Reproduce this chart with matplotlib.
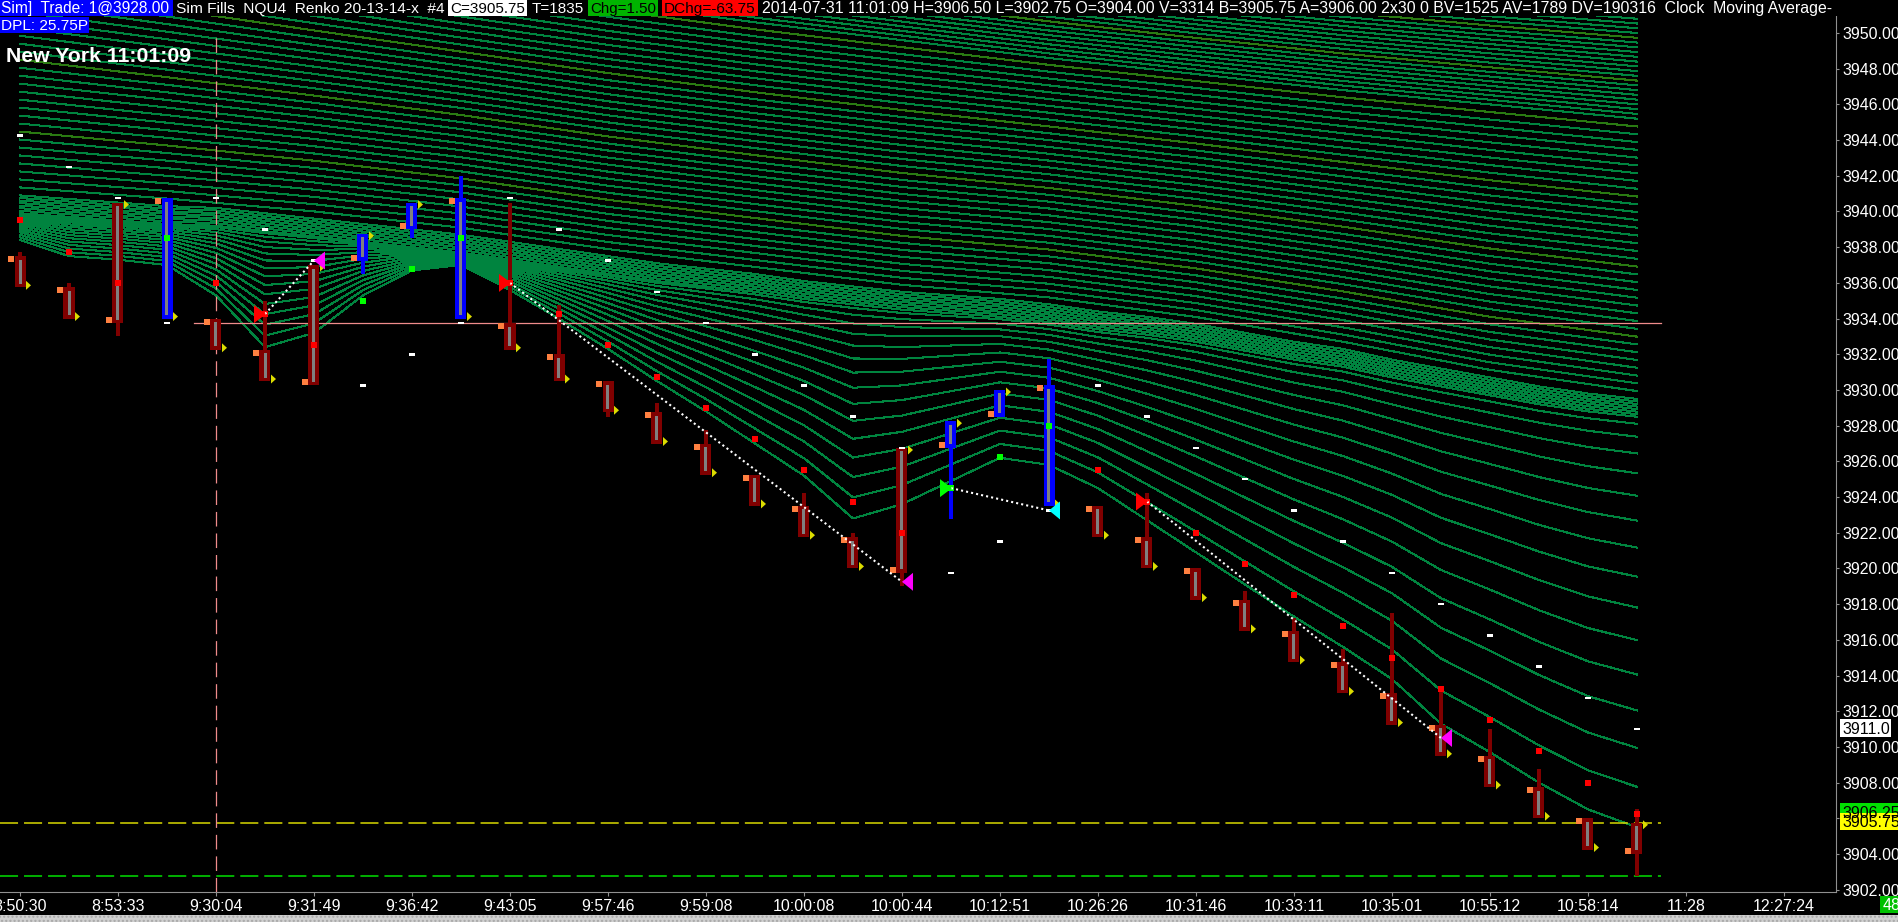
import numpy as np
import matplotlib
matplotlib.use("Agg")
import matplotlib.pyplot as plt
from matplotlib.patches import Rectangle, Polygon

W, H = 1899, 922
plt.rcParams['font.family'] = ['Liberation Sans', 'DejaVu Sans']
plt.rcParams['lines.scale_dashes'] = False

# ---- renko bars (one slot per bar) ----
time_labels = ["8:50:30", "8:53:33", "9:30:04", "9:31:49", "9:36:42", "9:43:05", "9:57:46",
               "9:59:08", "10:00:08", "10:00:44", "10:12:51", "10:26:26", "10:31:46",
               "10:33:11", "10:35:01", "10:55:12", "10:58:14", "11:28", "12:27:24"]
label_slots = list(range(0, 37, 2))

opens = [3937.5, 3935.75, 3933.75, 3940.75, 3934.0, 3932.25, 3930.25, 3937.25, 3939.0, 3940.75,
         3933.75, 3932.0, 3930.5, 3928.75, 3927.0, 3925.25, 3923.5, 3921.75, 3919.75, 3926.75,
         3928.5, 3930.25, 3923.5, 3921.75, 3920.0, 3918.25, 3916.5, 3914.75, 3913.0, 3911.25,
         3909.5, 3907.75, 3906.0, 3904.0]
closes = [3935.75, 3934.0, 3940.5, 3934.0, 3932.25, 3930.5, 3937.0, 3938.75, 3940.5, 3934.0,
          3932.25, 3930.5, 3928.75, 3927.0, 3925.25, 3923.5, 3921.75, 3920.0, 3926.75, 3928.25,
          3930.0, 3923.5, 3921.75, 3920.0, 3918.25, 3916.5, 3914.75, 3913.0, 3911.25, 3909.5,
          3907.75, 3906.0, 3904.25, 3905.75]
highs = [3937.75, 3936.0, 3940.5, 3940.75, 3934.0, 3935.0, 3937.0, 3938.75, 3940.5, 3942.0,
         3940.5, 3934.75, 3930.5, 3929.25, 3927.75, 3925.25, 3924.25, 3922.0, 3926.75, 3928.25,
         3930.0, 3931.75, 3923.5, 3924.25, 3920.0, 3918.75, 3917.25, 3915.5, 3917.5, 3913.25,
         3911.0, 3908.75, 3906.0, 3906.5]
lows = [3935.75, 3934.0, 3933.0, 3934.0, 3932.25, 3930.5, 3930.25, 3936.5, 3938.5, 3934.0,
        3932.25, 3930.5, 3928.5, 3927.0, 3925.25, 3923.5, 3921.75, 3920.0, 3919.0, 3922.75,
        3928.5, 3923.5, 3921.75, 3920.0, 3918.25, 3916.5, 3914.75, 3913.0, 3911.25, 3909.5,
        3907.75, 3906.0, 3904.25, 3902.75]
bar_colors = "rrrbrrrbbbrrrrrrrrrbbbrrrrrrrrrrrr"

# stop dots (red/green squares) and trailing white dashes
stop_dots = [3939.5, 3937.75, 3936.0, 3938.5, 3936.0, 3934.25, 3932.5, 3935.0, 3936.75, 3938.5,
             3936.0, 3934.25, 3932.5, 3930.75, 3929.0, 3927.25, 3925.5, 3923.75, 3922.0, 3924.5,
             3926.25, 3928.0, 3925.5, 3923.75, 3922.0, 3920.25, 3918.5, 3916.75, 3915.0, 3913.25,
             3911.5, 3909.75, 3908.0, 3906.25]
trail = [3944.25, 3942.5, 3940.75, 3933.75, 3940.75, 3939.0, 3937.25, 3930.25, 3932.0, 3933.75,
         3940.75, 3939.0, 3937.25, 3935.5, 3933.75, 3932.0, 3930.25, 3928.5, 3926.75, 3919.75,
         3921.5, 3923.25, 3930.25, 3928.5, 3926.75, 3925.0, 3923.25, 3921.5, 3919.75, 3918.0,
         3916.25, 3914.5, 3912.75, 3911.0]

# trade signals
entry_slots = [5, 10, 19, 23]
entry_px = [3934.25, 3936.0, 3924.5, 3923.75]
entry_cols = ['#ff0000', '#ff0000', '#00ff00', '#ff0000']
exit_slots = [6, 18, 21, 29]
exit_px = [3937.25, 3919.25, 3923.25, 3910.5]
exit_cols = ['#ff00ff', '#ff00ff', '#00ffff', '#ff00ff']

# moving average ribbon guides
ma_fast = [3938.4, 3937.5, 3937.3, 3937.0, 3935.3, 3932.4, 3933.2, 3935.3, 3936.7, 3937.0,
           3935.6, 3934.0, 3932.3, 3930.5, 3928.8, 3927.0, 3925.2, 3922.8, 3923.6, 3924.9,
           3926.2, 3925.8, 3924.5, 3922.7, 3920.9, 3919.1, 3917.3, 3915.6, 3913.8, 3911.3,
           3909.7, 3908.0, 3906.5, 3905.5]
ma_band = [3940.4, 3940.2, 3940.0, 3939.8, 3939.7, 3939.4, 3939.1, 3938.8, 3938.5, 3938.2,
           3937.8, 3937.4, 3937.0, 3936.6, 3936.3, 3936.0, 3935.6, 3935.3, 3935.0, 3934.8,
           3934.6, 3934.3, 3933.9, 3933.6, 3933.2, 3932.7, 3932.2, 3931.8, 3931.2, 3930.7,
           3930.2, 3929.7, 3929.3, 3929.0]
slow_slots = [0, 3, 6, 9, 12, 15, 18, 21, 24, 27, 30, 33]
ma_slow_top = [3966.0, 3964.4, 3962.8, 3961.3, 3959.9, 3958.6, 3957.4, 3956.3, 3955.3, 3954.5, 3953.8, 3953.2]
ma_slow_mid = [3957.0, 3955.6, 3954.2, 3952.9, 3951.7, 3950.6, 3949.6, 3948.6, 3947.7, 3946.8, 3946.0, 3945.2]

pink_level, last_level, low_level = 3933.75, 3905.75, 3902.75
session_open_slot = 4

# ---- figure ----
fig = plt.figure(figsize=(W / 100, H / 100), dpi=100, facecolor='black')
ax = fig.add_axes([0, 30 / H, 1836 / W, 892 / H], facecolor='black')
ymin, ymax = 3901.87, 3951.85
ax.set_xlim(-20 / 49, 1816 / 49)
ax.set_ylim(ymin, ymax)
px = 1 / 49.0
py = (ymax - ymin) / 892.0

xb = np.arange(len(opens))
o, c = np.array(opens), np.array(closes)
hi, lo = np.array(highs), np.array(lows)

# ribbon
green, olive = '#00843f', '#2a7a12'
xs = np.array(slow_slots)
top, mid = np.array(ma_slow_top), np.array(ma_slow_mid)
band, fast = np.array(ma_band), np.array(ma_fast)
band_s = band[xs] + 0.5
n = 0
for t in np.linspace(0, 1, 30, endpoint=False):
    ax.plot(xs, top + (mid - top) * t, color=olive if n % 9 == 4 else green, lw=0.75, antialiased=False, zorder=1)
    n += 1
for t in np.linspace(0, 1, 36, endpoint=False):
    ax.plot(xs, mid + (band_s - mid) * t, color=olive if n % 9 == 4 else green, lw=0.75, antialiased=False, zorder=1)
    n += 1
for t in np.linspace(0, 1, 8):
    ax.plot(xb, band + 0.5 - t, color=green, lw=0.75, antialiased=False, zorder=1)
for k in range(1, 16):
    t = (k / 15) ** 1.5
    ax.plot(xb, (band - 0.5) + (fast - band + 0.5) * t, color=green, lw=0.75, antialiased=False, zorder=1)

# horizontal / vertical reference lines
ax.plot([3.55, 33.5], [pink_level, pink_level], color='#f08c8c', lw=0.9, zorder=2)
ax.plot([-0.41, 33.5], [last_level, last_level], color='#d8d800', lw=1.1, dashes=(13, 4.3), zorder=2)
ax.plot([-0.41, 33.5], [low_level, low_level], color='#00e000', lw=1.1, dashes=(13, 4.3), zorder=2)
ax.plot([session_open_slot] * 2, [ymin, 3950.1], color='#f08c8c', lw=0.9, dashes=(10.5, 5), zorder=2)

# candles
cols = np.where(np.array(list(bar_colors)) == 'b', '#0000ff', '#800000')
ax.vlines(xb, lo, hi, colors=cols, lw=4 * 0.72, zorder=3)
ax.bar(xb, np.abs(c - o), bottom=np.minimum(o, c), width=11 * px, color=cols, zorder=3.1)
ax.bar(xb, np.abs(c - o) - 7 * py, bottom=np.minimum(o, c) + 3.5 * py, width=3 * px,
       color='#808080', zorder=3.2)
oy = np.where(o > c, o - 6 * py, o)
ax.bar(xb - 9 * px, 6 * py, bottom=oy, width=6 * px, color='#ff8040', zorder=3.3)
for i in xb:
    yc = c[i] + 2 * py if c[i] < o[i] else c[i] - 2 * py
    ax.add_patch(Polygon([(i + 6 * px, yc - 4.5 * py), (i + 6 * px, yc + 4.5 * py), (i + 11 * px, yc)],
                         closed=True, facecolor='#dcdc00', edgecolor='none', zorder=3.3))

dot_cols = np.where(np.array(list(bar_colors)) == 'b', '#00ff00', '#ff0000')
ax.scatter(xb, stop_dots, marker='s', s=(6 * 0.72) ** 2, c=dot_cols, linewidths=0, zorder=3.4)
ax.bar(xb, 2.5 * py, bottom=np.array(trail) - 1.25 * py, width=6 * px, color='white', zorder=3.4)

# trades
for x0, y0, x1, y1 in zip(entry_slots, entry_px, exit_slots, exit_px):
    ax.plot([x0, x1], [y0, y1], color='white', lw=1.5, dashes=(1.5, 2.2), zorder=3.5)
for x, y, col in zip(entry_slots, entry_px, entry_cols):
    ax.add_patch(Polygon([(x - 11 * px, y - 9 * py), (x - 11 * px, y + 9 * py), (x + 1 * px, y)],
                         closed=True, facecolor=col, edgecolor='none', zorder=3.6))
for x, y, col in zip(exit_slots, exit_px, exit_cols):
    ax.add_patch(Polygon([(x + 11 * px, y - 9 * py), (x + 11 * px, y + 9 * py), (x, y)],
                         closed=True, facecolor=col, edgecolor='none', zorder=3.6))

# axes styling
yt = np.arange(3902, 3951, 2)
ax.yaxis.tick_right()
ax.set_yticks(yt)
ax.set_yticklabels([f"{v:.2f}" for v in yt])
ax.set_xticks(label_slots)
ax.set_xticklabels(time_labels)
ax.tick_params(axis='y', colors='#909090', labelcolor='white', length=2.2, width=0.8, pad=2.2, labelsize=11.5)
ax.tick_params(axis='x', colors='#909090', labelcolor='white', length=2.9, width=0.8, pad=2.2, labelsize=11.5)
for s in ['left', 'top']:
    ax.spines[s].set_visible(False)
for s in ['right', 'bottom']:
    ax.spines[s].set_color('#909090')
    ax.spines[s].set_linewidth(0.8)


# ---- overlays in pixel coordinates ----
def box(x0, y0, x1, y1, color, **kw):
    fig.add_artist(Rectangle((x0 / W, 1 - y1 / H), (x1 - x0) / W, (y1 - y0) / H,
                             transform=fig.transFigure, facecolor=color, zorder=5, **kw))


def label(x, y, s, color='white', size=10.8, **kw):
    return fig.text(x / W, 1 - y / H, s, color=color, fontsize=size, va='baseline', ha='left', zorder=6, **kw)


renderer = fig.canvas.get_renderer()


def fit(t, width):
    # scale a text so it spans the width measured on the reference
    w = t.get_window_extent(renderer=renderer).width
    t.set_fontsize(t.get_fontsize() * width / w)


box(0, 0, W, 16, 'black', edgecolor='none')
box(0, 0, 173, 16, '#0000ff', edgecolor='none')
box(448, 0, 527, 16, 'white', edgecolor='none')
box(588, 0, 658, 16, '#00b400', edgecolor='none')
box(662, 0, 758, 16, '#ff0000', edgecolor='none')
box(0, 17, 89, 33, '#0000ff', edgecolor='none')

header = [(1, 13, "Sim]  Trade: 1@3928.00", 'white', 169),
          (176, 13, "Sim Fills  NQU4  Renko 20-13-14-x  #4", 'white', 268),
          (450, 13, "C=3905.75", 'black', 75),
          (532, 13, "T=1835", 'white', 52),
          (590, 13, "Chg=1.50", 'black', 66),
          (664, 13, "DChg=-63.75", 'black', 92),
          (762, 13, "2014-07-31 11:01:09 H=3906.50 L=3902.75 O=3904.00 V=3314 B=3905.75 "
                    "A=3906.00 2x30 0 BV=1525 AV=1789 DV=190316  Clock  Moving Average-", 'white', 1074),
          (1, 30, "DPL: 25.75P", 'white', 87)]
for x, y, s, col, w in header:
    fit(label(x, y, s, color=col), w)

fit(label(6, 62, "New York 11:01:09", size=13, fontweight='bold'), 185)

# price flags on the right scale
box(1840, 719, 1891, 737, 'white', edgecolor='none')
label(1842, 734, "3911.0", color='black', size=11.5)
box(1840, 803, W, 821, '#00e000', edgecolor='none')
label(1842, 818, "3906.25", color='black', size=11.5)
box(1840, 813, W, 830, '#ffff00', edgecolor='none')
label(1842, 827, "3905.75", color='black', size=11.5)
box(1880, 896, W, 913, '#00c000', edgecolor='none')
label(1883, 910, "48", size=11.5)

# scroll bar strip
box(0, 915, W, H, '#d0d0d0', edgecolor='#a8a8a8', hatch='....', linewidth=0)

fig.savefig("out.png", dpi=100, facecolor='black')
